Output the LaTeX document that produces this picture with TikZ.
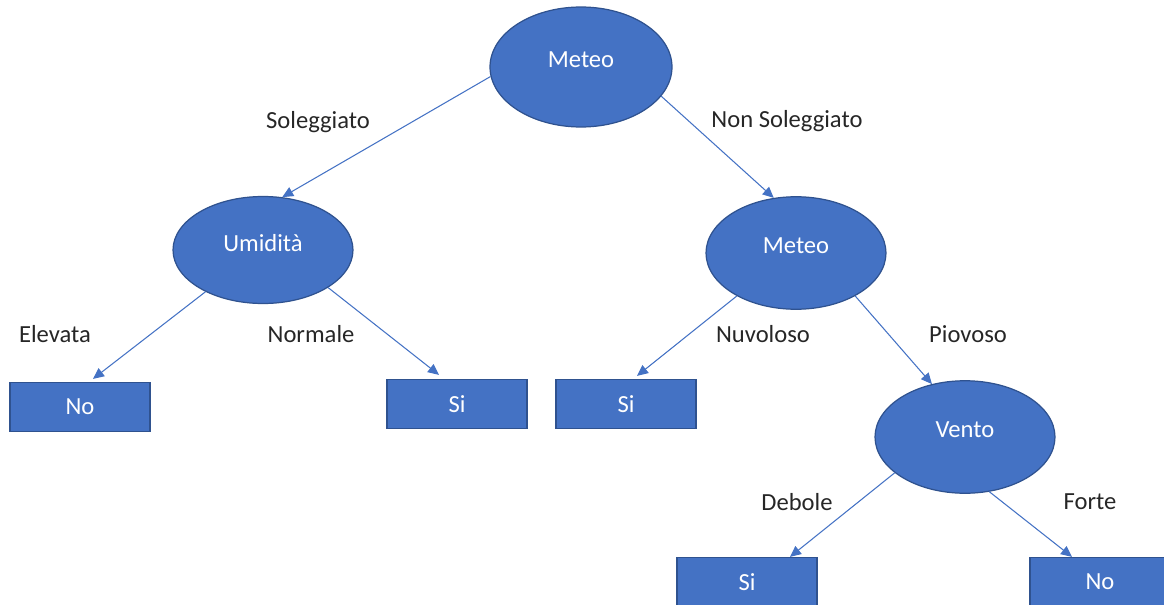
\documentclass[tikz,border=0pt]{standalone}
\usepackage{fontspec}
\setmainfont{Carlito}
\usetikzlibrary{shapes.geometric, arrows.meta}
\definecolor{wordblue}{HTML}{4472C4}
\definecolor{wordedge}{HTML}{2F528F}
\tikzset{
  attr/.style={ellipse, draw=wordedge, fill=wordblue, line width=0.7pt, text=white,
    minimum width=3.6cm, minimum height=2.25cm, inner sep=0pt},
  leaf/.style={rectangle, draw=wordedge, fill=wordblue, line width=0.7pt, text=white,
    minimum width=2.8cm, minimum height=0.98cm, inner sep=0pt},
  branch/.style={-{Triangle[length=0.22cm,width=0.2cm]}, draw=wordblue, line width=0.6pt},
  lbl/.style={text=black!85, inner sep=0pt}
}
\newcommand{\txtup}[1]{\raisebox{4pt}[\height][\depth]{#1}}

\begin{document}
\begin{tikzpicture}[x=0.02cm, y=-0.02cm, font=\fontsize{14}{16}\selectfont]
\path[use as bounding box, clip] (0,0) rectangle (1164,605);
% 根节点
\node[attr, minimum width=3.64cm, minimum height=2.4cm] (meteo) at (581,67) {\txtup{Meteo}};
% 第二层
\node[attr, minimum height=2.14cm] (umidita) at (263,250) {\txtup{Umidità}};
\node[attr] (meteo2) at (796,253) {\txtup{Meteo}};
% 第三层
\node[leaf] (no1) at (80,407) {No};
\node[leaf] (si1) at (457,404) {Si};
\node[leaf] (si2) at (626,404) {Si};
\node[attr] (vento) at (965,437) {\txtup{Vento}};
% 第四层
\node[leaf] (si3) at (747,582) {Si};
\node[leaf] (no2) at (1100,582) {No};
% 分支标签
\node[lbl] (sol) at (318,122) {Soleggiato};
\node[lbl] (nonsol) at (787,121) {Non Soleggiato};
\node[lbl] (elev) at (55,334) {Elevata};
\node[lbl] (norm) at (311,334) {Normale};
\node[lbl] (nuvo) at (763,334) {Nuvoloso};
\node[lbl] (piov) at (968,334) {Piovoso};
\node[lbl] (debo) at (797,502) {Debole};
\node[lbl] (fort) at (1090,502) {Forte};
% 分支箭头
\draw[branch] (meteo.186) -- (umidita.70);
\draw[branch] (meteo.-20) -- (meteo2.112);
\draw[branch] (umidita.216) -- ([xshift=0.26cm, yshift=0.06cm]no1.north);
\draw[branch] (umidita.-30) -- ([xshift=-0.36cm, yshift=0.08cm]si1.north);
\draw[branch] (meteo2.216) -- ([xshift=0.22cm, yshift=0.06cm]si2.north);
\draw[branch] (meteo2.-36) -- (vento.122);
\draw[branch] (vento.207) -- ([xshift=0.86cm]si3.north);
\draw[branch] (vento.-66) -- ([xshift=-0.56cm]no2.north);
\end{tikzpicture}
\end{document}
